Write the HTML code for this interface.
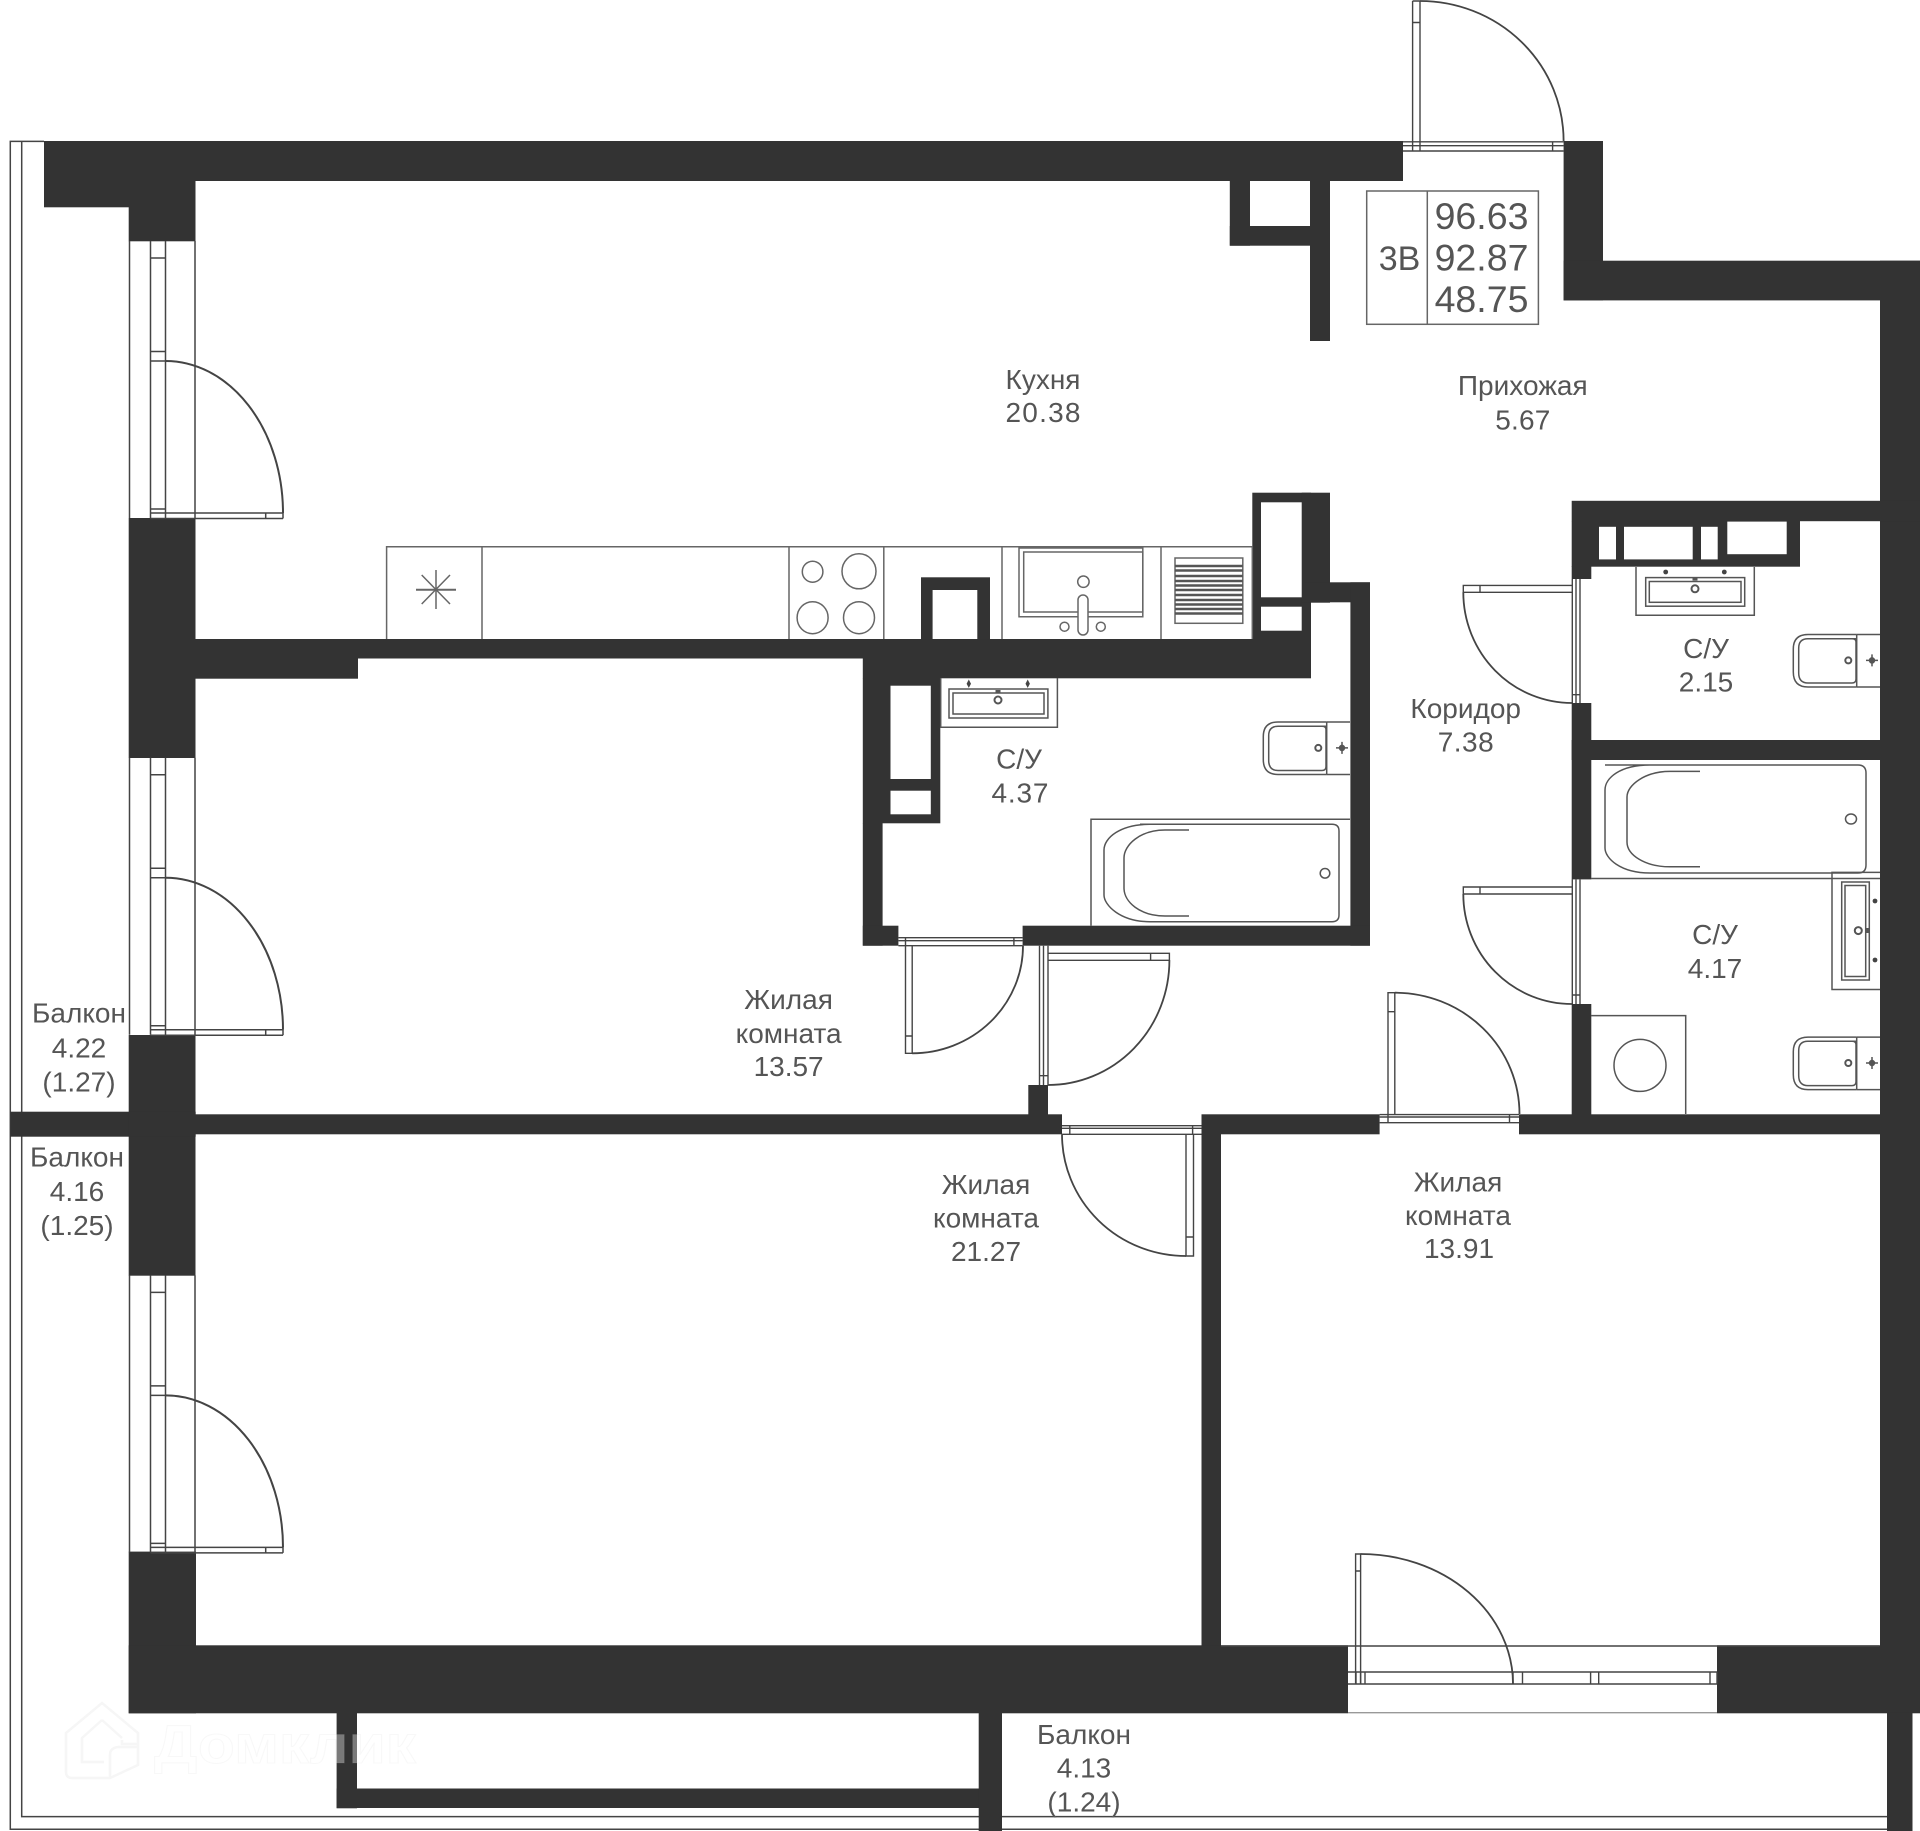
<!DOCTYPE html>
<html lang="ru"><head><meta charset="utf-8"><title>План квартиры</title>
<style>html,body{margin:0;padding:0;background:#fff}svg{display:block}text{font-family:"Liberation Sans",sans-serif;font-size:28px;fill:#555;text-anchor:middle}</style></head>
<body>
<svg width="1920" height="1831" viewBox="0 0 1920 1831" xmlns="http://www.w3.org/2000/svg">
<defs>
<g id="win" fill="none" stroke="#444" stroke-width="1.5">
<path d="M129.5 241V518M150.5 241V518M165.5 241V518M195 241V518"/>
<path d="M150.5 258H165.5M150.5 351.5H165.5M150.5 361H165.5M150.5 509H165.5"/>
<path d="M150.5 513H283M150.5 518.5H283M265.7 513V518.5M283 513V518.5"/>
<path d="M165.5 361A117.5 152 0 0 1 283 513" stroke-width="2"/>
</g>
<g id="toilet" fill="none" stroke="#555" stroke-width="1.5">
<path d="M1856.7 634.5H1880M1856.7 687H1880M1856.7 634.5V687"/>
<path d="M1856.7 634.5H1808Q1793.3 634.5 1793.3 649V672Q1793.3 687 1808 687H1856.7"/>
<path d="M1856 638.7H1808Q1798.7 638.7 1798.7 648V673Q1798.7 683 1808 683H1852Q1856 683 1856 679V642Q1856 638.7 1852 638.7"/>
<circle cx="1848.3" cy="660.4" r="3" stroke-width="2"/>
<path d="M1866 660.4H1878M1872 654.4V666.4"/>
<circle cx="1872" cy="660.4" r="2.5" fill="#555"/>
</g>
</defs>

<!-- balcony outlines -->
<g fill="none" stroke="#444" stroke-width="1.5">
<path d="M44 141.4H10.3V1829.3H1912"/>
<path d="M21.7 141.4V1816.6H1887"/>
</g>

<!-- walls -->
<g fill="#333">
<rect x="44" y="141" width="1359" height="40"/>
<rect x="44" y="180" width="151.5" height="27.3"/>
<rect x="128.7" y="207" width="66.8" height="34.3"/>
<rect x="128.7" y="518" width="66.8" height="240"/>
<rect x="128.7" y="1035" width="66.8" height="240.7"/>
<rect x="128.7" y="1551.6" width="67.3" height="161.7"/>
<rect x="195" y="639" width="1116" height="19.5"/>
<rect x="195" y="658" width="163" height="20.7"/>
<rect x="862.8" y="658" width="448.2" height="20.3"/>
<rect x="10.3" y="1111.7" width="118.7" height="25"/>
<rect x="128.7" y="1111.7" width="67" height="25"/>
<rect x="195" y="1114.3" width="867" height="20"/>
<rect x="1201.5" y="1114.3" width="178.1" height="20"/>
<rect x="1519" y="1114.3" width="401" height="20"/>
<rect x="1201.5" y="1134" width="19.5" height="512"/>
<rect x="128.7" y="1645.3" width="1219.3" height="68"/>
<rect x="1717" y="1645.3" width="203" height="68"/>
<rect x="1563.6" y="141" width="39.4" height="159.4"/>
<rect x="1563.6" y="260.7" width="356.4" height="39.7"/>
<rect x="1880" y="260.7" width="40" height="1452"/>
<rect x="1229.8" y="181" width="20.2" height="64.7"/>
<rect x="1229.8" y="226" width="100.2" height="19.7"/>
<rect x="1310" y="181" width="20" height="160"/>
<!-- kitchen shaft -->
<rect x="1252.3" y="492.7" width="58.7" height="146.3"/>
<rect x="1301.7" y="492.7" width="28.3" height="110"/>
<rect x="1305" y="582.3" width="65" height="20"/>
<rect x="1350.4" y="582.3" width="19.6" height="363.4"/>
<!-- SU 4.37 -->
<rect x="862.8" y="678" width="77.5" height="145.3"/>
<rect x="862.8" y="823" width="19.8" height="122.7"/>
<rect x="862.8" y="925.7" width="35.6" height="20"/>
<rect x="1022.6" y="925.7" width="347.4" height="20"/>
<rect x="1028.3" y="1085" width="19.7" height="30"/>
<!-- SU 2.15 / 4.17 -->
<rect x="1571.7" y="500.8" width="348.3" height="20.4"/>
<rect x="1571.7" y="521" width="228.3" height="45.7"/>
<rect x="1571.7" y="566" width="19.6" height="13"/>
<rect x="1571.7" y="703" width="19.6" height="176.4"/>
<rect x="1571.7" y="740" width="348.3" height="20"/>
<rect x="1571.7" y="1004" width="19.6" height="111"/>
<!-- bottom balcony -->
<rect x="336.6" y="1713" width="20.4" height="95.3"/>
<rect x="336.6" y="1788.5" width="665.4" height="19.5"/>
<rect x="978.7" y="1713" width="23.3" height="118"/>
<rect x="1887" y="1713" width="25.5" height="118"/>
<!-- kitchen counter shaft -->
<rect x="921" y="577.3" width="69" height="62"/>
</g>

<!-- white cut-outs -->
<g fill="#fff">
<rect x="1261" y="502.3" width="40.7" height="95"/>
<rect x="1261" y="606.7" width="40.7" height="24"/>
<rect x="890.5" y="685.7" width="40.3" height="93.3"/>
<rect x="890.5" y="790.7" width="40.3" height="23.6"/>
<rect x="1599" y="526.8" width="17" height="32.6"/>
<rect x="1624" y="526.8" width="68.7" height="32.6"/>
<rect x="1701" y="526.8" width="16.7" height="32.6"/>
<rect x="1727.3" y="521.6" width="59.4" height="32.6"/>
<rect x="932.6" y="590" width="44.7" height="49"/>
</g>

<!-- windows with balcony doors -->
<use href="#win"/>
<use href="#win" y="516.7"/>
<use href="#win" y="1034.4"/>

<!-- interior doors -->
<g fill="none" stroke="#444" stroke-width="1.4">
<!-- entry -->
<path d="M1403 141.8H1563.6M1403 145.7H1563.6M1403 151H1563.6"/>
<path d="M1412.6 1V151M1420 1V151M1552.6 141.8V151M1412.6 1H1420M1412.6 22.5H1420"/>
<path d="M1420 1A143.6 140 0 0 1 1563.6 141" stroke-width="1.8"/>
<!-- SU 4.37 door -->
<path d="M898.4 937.7H1022.6M898.4 940.7H1022.6M898.4 945.7H1022.6M905.5 937.7V945.7M1013.9 937.7V945.7"/>
<path d="M905.5 945.7V1053.3H912.2V945.7M905.5 1036H912.2"/>
<path d="M912.2 1053.3A110.8 107.6 0 0 0 1023 945.7" stroke-width="1.8"/>
<!-- bedroom 13.57 door -->
<path d="M1039.5 945.7V1085M1043.5 945.7V1085M1048 945.7V1085M1039.5 1075.7H1048"/>
<path d="M1048 953.3H1169.4V960.3H1048M1150.6 953.3V960.3"/>
<path d="M1169.4 960.3A121.4 124.7 0 0 1 1048 1085" stroke-width="1.8"/>
<!-- bedroom 21.27 door -->
<path d="M1062 1125.7H1201.5M1062 1128.3H1201.5M1062 1134.3H1201.5M1069.8 1125.7V1134.3M1192.6 1125.7V1134.3"/>
<path d="M1186 1134.3V1256H1193.5V1134.3M1186 1237H1193.5"/>
<path d="M1062 1134.3A124 121.7 0 0 0 1186 1256" stroke-width="1.8"/>
<!-- bedroom 13.91 door -->
<path d="M1379.6 1114.6H1519M1379.6 1117H1519M1379.6 1122.7H1519M1388 1114.6V1122.7M1509.5 1114.6V1122.7"/>
<path d="M1388 1114.6V992.7H1394.8V1114.6M1388 1011.7H1394.8"/>
<path d="M1394.8 992.7A124.7 121.3 0 0 1 1519.5 1114" stroke-width="1.8"/>
<!-- SU 2.15 door -->
<path d="M1572.3 579V703M1576 579V703M1580 579V703M1572.3 694.7H1580"/>
<path d="M1572 585.4H1463.3V592.3H1572M1480 585.4V592.3"/>
<path d="M1463.3 592.3A108.7 110.7 0 0 0 1572 703" stroke-width="1.8"/>
<!-- SU 4.17 door -->
<path d="M1572.3 879.4V1004M1576 879.4V1004M1580 879.4V1004M1572.3 995H1580"/>
<path d="M1572 887H1463.3V894H1572M1480 887V894"/>
<path d="M1463.3 894A108.7 110 0 0 0 1572 1004" stroke-width="1.8"/>
<!-- bottom balcony door & window -->
<path d="M1221 1646H1879.4M1348 1672H1717M1348 1684H1717"/>
<path d="M1348 1712.7H1717" stroke="#999"/>
<path d="M1356 1672V1684M1360.6 1672V1684M1365 1672V1684M1513 1672V1684M1522.5 1672V1684M1590.6 1672V1684M1598.7 1672V1684M1710 1672V1684M1717 1672V1684"/>
<path d="M1355.6 1684V1554H1360.6V1684M1355.6 1571H1360.6"/>
<path d="M1360.6 1554A152.4 130 0 0 1 1513 1684" stroke-width="1.8"/>
</g>

<!-- kitchen furniture -->
<g fill="none" stroke="#666" stroke-width="1.5">
<path d="M386.6 639V546.7H1252.3M482 546.7V639M789 546.7V639M883.8 546.7V639M1002 546.7V639M1161 546.7V639M1252.3 546.7V639"/>
<path d="M416 589.7H456" stroke-width="2"/>
<path d="M436 570V609M421.7 575L450 604M450 575L421.7 604"/>
<ellipse cx="812.6" cy="571.7" rx="10.3" ry="10.5"/>
<ellipse cx="859" cy="571.3" rx="17" ry="17.5"/>
<ellipse cx="812.6" cy="617.7" rx="15.5" ry="16"/>
<ellipse cx="859" cy="617.7" rx="15.5" ry="16"/>
<path d="M1019 548V616.7H1142.8V548Z"/>
<rect x="1023.7" y="552" width="119.1" height="60"/>
<rect x="1078" y="595" width="10" height="40" rx="5" fill="#fff"/>
<circle cx="1083.4" cy="581.7" r="5.7"/>
<circle cx="1064.5" cy="626.7" r="4.5"/>
<circle cx="1100.8" cy="626.7" r="4.5"/>
<rect x="1175" y="558" width="67.8" height="65.3"/>
<path d="M1175 566H1242.8M1175 570.5H1242.8M1175 576H1242.8M1175 581H1242.8M1175 585.5H1242.8M1175 590H1242.8M1175 595H1242.8M1175 600H1242.8M1175 604.5H1242.8M1175 609H1242.8M1175 613.5H1242.8" stroke="#555" stroke-width="2.6"/>
</g>

<!-- bathroom fixtures -->
<g fill="none" stroke="#555" stroke-width="1.5">
<!-- 4.37 -->
<path d="M940.7 678V727.3H1057.4V678"/>
<rect x="949" y="689" width="98.9" height="29"/>
<rect x="953" y="693" width="91" height="21"/>
<circle cx="998" cy="700" r="3.5" stroke-width="2"/>
<rect x="995.5" y="690" width="5" height="2.5" fill="#555" stroke="none"/>
<path d="M1091 925.7V819.3H1350"/>
<path d="M1140 824.3H1332Q1339 824.3 1339 831V915Q1339 921.7 1332 921.7H1150C1120 921.7 1104 905 1104 895V850C1104 838 1120 824.3 1150 824.3Z"/>
<path d="M1189 830H1165C1140 830 1124 845 1124 858V888C1124 902 1140 916 1165 916H1189"/>
<circle cx="1325" cy="873.3" r="4.8"/>
<!-- 2.15 -->
<path d="M1636 567V615.3H1754.3V567"/>
<rect x="1645.7" y="577.6" width="99" height="28.6"/>
<rect x="1649.3" y="581.5" width="91.7" height="20.8"/>
<circle cx="1695" cy="588.8" r="3.5" stroke-width="2"/>
<rect x="1692.5" y="578" width="5" height="2.5" fill="#555" stroke="none"/>
<!-- 4.17 -->
<path d="M1605 765H1650M1650 765H1858Q1866 765 1866 773V865Q1866 873 1858 873H1650C1620 873 1605 858 1605 848V790C1605 778 1620 765 1650 765"/>
<path d="M1700 771.4H1670C1645 771.4 1627 785 1627 797V842C1627 855 1645 866.8 1670 866.8H1700"/>
<ellipse cx="1851" cy="819" rx="5.5" ry="5"/>
<path d="M1591 878.5H1880"/>
<path d="M1880 872.4H1832V989.5H1880"/>
<rect x="1841.7" y="882" width="27.6" height="98"/>
<rect x="1845" y="885.5" width="20.7" height="91"/>
<circle cx="1858.3" cy="930.6" r="3.5" stroke-width="2"/>
<rect x="1866" y="928" width="3" height="5" fill="#555" stroke="none"/>
<path d="M1591 1015.6H1685.7V1114"/>
<circle cx="1640" cy="1065.4" r="26"/>
</g>
<g fill="#444">
<path d="M968.8 679.5L971 683.7L968.8 687.9L966.6 683.7Z"/>
<path d="M1027.7 679.5L1029.9 683.7L1027.7 687.9L1025.5 683.7Z"/>
<circle cx="1665.7" cy="572" r="2.4"/>
<circle cx="1724.3" cy="572" r="2.4"/>
<circle cx="1875" cy="901" r="2.4"/>
<circle cx="1875" cy="960" r="2.4"/>
</g>
<use href="#toilet"/>
<use href="#toilet" x="-530" y="87.5"/>
<use href="#toilet" y="402.6"/>

<!-- info box -->
<g fill="none" stroke="#666" stroke-width="1.5">
<rect x="1366.7" y="191" width="171.7" height="133.3"/>
<path d="M1427.3 191V324.3"/>
</g>
<text x="1481.5" y="229" style="font-size:37.5px">96.63</text>
<text x="1481.5" y="270.5" style="font-size:37.5px">92.87</text>
<text x="1481.5" y="312" style="font-size:37.5px">48.75</text>
<text x="1399.5" y="270" style="font-size:34px">3В</text>

<!-- labels -->
<text x="1043" y="389">Кухня</text><text x="1043" y="422" textLength="75">20.38</text>
<text x="1522.8" y="395">Прихожая</text><text x="1522.8" y="429.6" textLength="55">5.67</text>
<text x="1465.7" y="718">Коридор</text><text x="1465.7" y="751.5" textLength="56">7.38</text>
<text x="1706" y="657.8">С/У</text><text x="1706" y="691.6">2.15</text>
<text x="1715" y="944">С/У</text><text x="1715" y="977.8">4.17</text>
<text x="1019" y="768.5">С/У</text><text x="1020" y="802.7" textLength="57">4.37</text>
<text x="788.6" y="1009">Жилая</text><text x="788.6" y="1043">комната</text><text x="788.6" y="1076" textLength="70">13.57</text>
<text x="986" y="1194">Жилая</text><text x="986" y="1227.7">комната</text><text x="986" y="1261">21.27</text>
<text x="1458" y="1191.7">Жилая</text><text x="1458" y="1225">комната</text><text x="1459" y="1258">13.91</text>
<text x="79" y="1022.7">Балкон</text><text x="79" y="1057.3">4.22</text><text x="79" y="1091.7">(1.27)</text>
<text x="77" y="1166.7">Балкон</text><text x="77" y="1201">4.16</text><text x="77" y="1235">(1.25)</text>
<text x="1084" y="1744">Балкон</text><text x="1084" y="1777.7">4.13</text><text x="1084" y="1811.7">(1.24)</text>

<!-- watermark -->
<g fill="none" stroke="#f6f6f6" stroke-width="2.5">
<path d="M102 1703L138 1733V1765L110 1778H72Q66 1778 66 1772V1733Z"/>
<path d="M102 1720L122 1738M102 1720L82 1738V1762H104M122 1740V1744H138M110 1778V1755Q110 1748 118 1747H138"/>
</g>
<text x="154" y="1763" textLength="262" lengthAdjust="spacingAndGlyphs" style="font-size:54px;font-weight:bold;text-anchor:start;fill:rgba(255,255,255,.35);stroke:rgba(190,190,190,.1);stroke-width:1">Домклик</text>
</svg>
</body></html>
